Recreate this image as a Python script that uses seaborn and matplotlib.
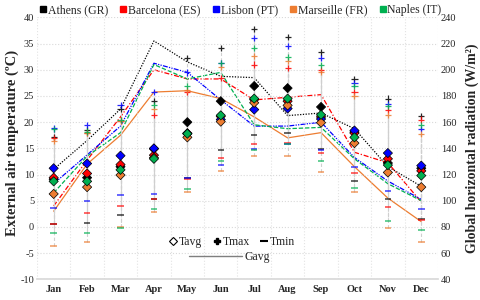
import numpy as np
import pandas as pd
import matplotlib.pyplot as plt
import seaborn as sns
from matplotlib.lines import Line2D

sns.set_theme(style="white")
plt.rcParams['font.family'] = ['Liberation Serif', 'DejaVu Serif']
plt.rcParams['axes.unicode_minus'] = False

months = ['Jan', 'Feb', 'Mar', 'Apr', 'May', 'Jun',
          'Jul', 'Aug', 'Sep', 'Oct', 'Nov', 'Dec']
cities = ['Athens (GR)', 'Barcelona (ES)', 'Lisbon (PT)',
          'Marseille (FR)', 'Naples (IT)']
colors = ['#000000', '#FF0000', '#0000FF', '#ED7D31', '#00B050']

# average temperature (ºC)
athens_tavg = [9.1, 9.4, 11.5, 14.9, 20.0, 24.0, 26.9, 26.5, 22.9, 18.1, 12.2, 11.2]
barcelona_tavg = [9.4, 10.2, 11.9, 13.7, 17.9, 21.1, 24.3, 24.0, 21.0, 17.9, 13.0, 10.7]
lisbon_tavg = [11.2, 12.1, 13.6, 15.0, 17.8, 20.5, 22.4, 22.6, 20.6, 18.4, 14.1, 11.7]
marseille_tavg = [6.3, 7.6, 9.9, 13.2, 17.1, 20.1, 23.7, 23.2, 19.9, 16.0, 10.4, 7.6]
naples_tavg = [8.7, 8.7, 10.9, 13.0, 17.8, 21.3, 24.5, 24.5, 21.4, 17.1, 11.8, 9.8]

# maximum temperature (ºC)
athens_tmax = [17.2, 18.5, 22.6, 24.0, 32.3, 34.2, 37.8, 36.2, 33.3, 28.3, 24.5, 21.2]
barcelona_tmax = [17.0, 18.0, 20.3, 21.4, 25.7, 28.4, 31.0, 30.3, 30.0, 25.8, 22.3, 20.5]
lisbon_tmax = [18.8, 19.5, 23.3, 25.8, 29.5, 31.2, 36.1, 34.6, 32.3, 27.4, 23.5, 18.7]
marseille_tmax = [16.4, 17.9, 20.3, 22.5, 26.2, 30.5, 32.7, 31.7, 29.6, 25.0, 21.3, 17.8]
naples_tmax = [18.7, 18.2, 20.4, 23.3, 26.9, 31.3, 34.1, 32.5, 30.9, 26.9, 23.1, 19.5]

# minimum temperature (ºC)
athens_tmin = [0.5, 0.8, 2.2, 5.4, 9.3, 14.6, 17.6, 17.9, 14.8, 8.8, 5.4, 1.6]
barcelona_tmin = [0.6, 2.6, 4.0, 5.3, 9.1, 13.1, 15.8, 16.0, 14.2, 10.2, 3.8, 1.4]
lisbon_tmin = [3.6, 4.9, 6.0, 6.2, 9.4, 11.9, 14.9, 15.8, 14.7, 11.5, 6.9, 3.5]
marseille_tmin = [-3.7, -2.8, 0.0, 2.9, 6.7, 10.7, 13.5, 13.5, 10.4, 6.7, -0.2, -2.8]
naples_tmin = [-1.2, -1.2, -0.3, 3.5, 7.3, 12.5, 14.7, 15.9, 12.5, 7.5, 1.1, -0.5]

# global horizontal radiation (W/m2)
athens_gavg = [124, 146, 170, 222, 206, 195, 194, 165, 167, 155, 126, 111]
barcelona_gavg = [96, 131, 164, 200, 193, 193, 177, 179, 181, 137, 129, 99]
lisbon_gavg = [113, 135, 157, 205, 198, 177, 157, 157, 160, 133, 115, 101]
marseille_gavg = [92, 128, 150, 183, 184, 178, 164, 148, 152, 126, 102, 84]
naples_gavg = [106, 134, 152, 204, 193, 198, 158, 155, 156, 132, 113, 100]

tavg = [athens_tavg, barcelona_tavg, lisbon_tavg, marseille_tavg, naples_tavg]
tmax = [athens_tmax, barcelona_tmax, lisbon_tmax, marseille_tmax, naples_tmax]
tmin = [athens_tmin, barcelona_tmin, lisbon_tmin, marseille_tmin, naples_tmin]
gavg = [athens_gavg, barcelona_gavg, lisbon_gavg, marseille_gavg, naples_gavg]

rows = []
for i, city in enumerate(cities):
    for j in range(len(months)):
        rows.append(dict(city=city, pos=j, tavg=tavg[i][j], tmax=tmax[i][j],
                         tmin=tmin[i][j], gavg=gavg[i][j]))
df = pd.DataFrame(rows)
palette = dict(zip(cities, colors))
dashes = {
    'Athens (GR)': (1, 1.2),
    'Barcelona (ES)': (4, 1.5, 1, 1.5),
    'Lisbon (PT)': (4, 1, 1, 1, 1, 1),
    'Marseille (FR)': '',
    'Naples (IT)': (3.5, 1.5),
}

fig, ax = plt.subplots(figsize=(4.8, 3.0), dpi=100)
fig.subplots_adjust(left=0.077, right=0.9125, bottom=0.069, top=0.942)
ax2 = ax.twinx()

# radiation lines (right axis)
sns.lineplot(data=df, x='pos', y='gavg', hue='city', style='city',
             palette=palette, dashes=dashes, lw=0.9, ax=ax2, legend=False)

# min-max ranges
ax.vlines(df['pos'], df['tmin'], df['tmax'], colors='#cfcfcf',
          linestyles=(0, (3, 2)), lw=0.8, zorder=1)

sns.scatterplot(data=df, x='pos', y='tmax', hue='city', palette=palette,
                marker='+', s=20, linewidth=0.9, alpha=0.85, ax=ax,
                legend=False, zorder=3)
sns.scatterplot(data=df, x='pos', y='tmin', hue='city', palette=palette,
                marker='_', s=22, linewidth=1.2, alpha=0.7, ax=ax,
                legend=False, zorder=3)
sns.scatterplot(data=df, x='pos', y='tavg', hue='city', palette=palette,
                marker='D', s=22, edgecolor='black', linewidth=0.5, ax=ax,
                legend=False, zorder=4)

ax.set_zorder(ax2.get_zorder() + 1)
ax.patch.set_visible(False)

ax.set_xlim(-0.5, len(months) - 0.5)
ax.set_ylim(-10, 40)
ax.set_yticks(range(-10, 41, 5))
ax.set_xticks(range(len(months)))
ax.set_xticklabels(months, fontweight='bold', fontsize=8.5)
ax.set_xticks(np.arange(-0.5, len(months), 1), minor=True)
ax.grid(axis='y', which='major', color='#d9d9d9', ls=':', lw=0.8)
ax.grid(axis='x', which='minor', color='#e3e3e3', ls=':', lw=0.8)
ax.grid(axis='x', which='major', visible=False)
ax2.set_ylim(40, 240)
ax2.set_yticks(range(40, 241, 20))
ax2.grid(False)

for a in (ax, ax2):
    for s in a.spines.values():
        s.set_visible(False)
    a.tick_params(length=0, labelsize=7.5, pad=2)
ax.spines['bottom'].set_visible(True)
ax.spines['bottom'].set_color('#d9d9d9')
ax.tick_params(axis='x', which='both', pad=4, length=0)

ax.set_xlabel('')
ax.set_ylabel('External air temperature (ºC)', fontweight='bold', fontsize=10.5)
ax.yaxis.set_label_coords(-0.045, 0.52)
ax2.set_ylabel('Global horizontal radiation (W/m²)', fontweight='bold', fontsize=10)
ax2.yaxis.set_label_coords(1.068, 0.5)

# city legend on top
city_handles = [Line2D([], [], marker='s', ls='', color=c, markersize=4.5)
                for c in colors]
fig.legend(city_handles, cities, loc='center', bbox_to_anchor=(0.5, 0.967),
           ncol=5, frameon=False, handletextpad=0.0, columnspacing=0.9,
           handlelength=0.8, fontsize=8.5, borderpad=0)

# variable legend inside the plot
var_handles = [
    Line2D([], [], marker='D', ls='', mfc='white', mec='black', mew=0.8, markersize=4.5),
    Line2D([], [], marker='P', ls='', color='black', markersize=5),
    Line2D([], [], marker='_', ls='', color='black', mew=1.5, markersize=6),
]
leg1 = ax.legend(var_handles, ['Tavg', 'Tmax', 'Tmin'], loc='center',
                 bbox_to_anchor=(0.486, 0.142), ncol=3, frameon=False,
                 handletextpad=0.1, columnspacing=0.8, handlelength=0.8,
                 fontsize=8.5, borderpad=0)
ax.add_artist(leg1)
ax.legend([Line2D([], [], color='#7f7f7f', lw=1)], ['Gavg'], loc='center',
          bbox_to_anchor=(0.479, 0.085), frameon=False, handlelength=4.5,
          handletextpad=0.2, fontsize=8.5, borderpad=0)

fig.savefig('out.png', dpi=100)
